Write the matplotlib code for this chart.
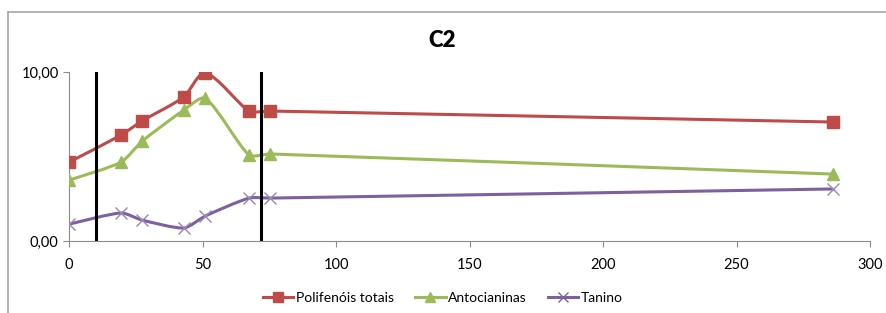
import numpy as np
import matplotlib
matplotlib.use('Agg')
import matplotlib.pyplot as plt
from matplotlib.path import Path
from matplotlib.patches import PathPatch
from matplotlib.lines import Line2D

plt.rcParams['font.family'] = ['Lato', 'DejaVu Sans']

# data
dias = [0, 19.5, 27.3, 43, 51, 67.4, 75.3, 286]
polifenois = [4.67, 6.27, 7.10, 8.52, 9.94, 7.69, 7.69, 7.04]
antocianinas = [3.60, 4.67, 5.90, 7.75, 8.44, 5.09, 5.15, 3.96]
tanino = [1.00, 1.66, 1.24, 0.77, 1.48, 2.54, 2.54, 3.08]
marcos = [10, 72]

series = [
    ('Polifenóis totais', polifenois, '#BE4B48', 's'),
    ('Antocianinas', antocianinas, '#9BBB59', '^'),
    ('Tanino', tanino, '#7D60A0', 'x'),
]

# approx pixels per data unit, used only to shape the smoothing
SX, SY = 801 / 300.0, 169 / 10.0


def smooth_path(x, y, k=0.22):
    # Excel style smoothed line: cubic bezier through the points
    p = np.column_stack([np.asarray(x) * SX, np.asarray(y) * SY])
    n = len(p)
    tang = []
    for i in range(n):
        a = p[i - 1] if i > 0 else p[i]
        b = p[i + 1] if i < n - 1 else p[i]
        d = b - a
        tang.append(d / np.hypot(*d))
    verts = [p[0]]
    codes = [Path.MOVETO]
    for i in range(n - 1):
        L = np.hypot(*(p[i + 1] - p[i]))
        verts += [p[i] + tang[i] * L * k, p[i + 1] - tang[i + 1] * L * k, p[i + 1]]
        codes += [Path.CURVE4] * 3
    verts = np.array(verts) / [SX, SY]
    return Path(verts, codes)


fig = plt.figure(figsize=(8.86, 3.13), dpi=100)
ax = fig.add_axes([0.078, 0.23, 0.904, 0.54])

for nome, vals, cor, mk in series:
    ax.add_patch(PathPatch(smooth_path(dias, vals), facecolor='none',
                           edgecolor=cor, lw=2.2, zorder=2))
    if mk == 'x':
        ax.plot(dias, vals, ls='none', marker=mk, ms=9, mew=1.0,
                color='#9A87B8', zorder=3)
    else:
        ax.plot(dias, vals, ls='none', marker=mk, ms=8.5, color=cor, zorder=3)

for m in marcos:
    ax.plot([m, m], [0, 10], color='black', lw=2.2, zorder=4)

ax.set_xlim(0, 300)
ax.set_ylim(0, 10)
ax.set_xticks(range(0, 301, 50))
ax.set_yticks([0, 10])
ax.set_yticklabels(['0,00', '10,00'])
for s in ['top', 'right']:
    ax.spines[s].set_visible(False)
for s in ['left', 'bottom']:
    ax.spines[s].set_color('#8c8c8c')
ax.tick_params(colors='#8c8c8c', labelcolor='black', labelsize=10.5,
               direction='out', length=4)
ax.tick_params(axis='x', pad=8)
ax.set_title('C2', fontsize=16, fontweight='heavy', x=0.466, pad=18)

handles = [Line2D([], [], color=cor, lw=2.2, marker=mk, ms=7, mew=1.0)
           for _, _, cor, mk in series]
fig.legend(handles, [s[0] for s in series], loc='center',
           bbox_to_anchor=(0.5, 0.048), ncol=3, frameon=False,
           fontsize=10, handlelength=2.2, handletextpad=0.2, columnspacing=1.5)

# chart area border (top and left visible)
fig.add_artist(Line2D([0.009, 1.0], [0.962, 0.962], color='#a6a6a6', lw=1.2,
                      transform=fig.transFigure))
fig.add_artist(Line2D([0.009, 0.009], [0.0, 0.962], color='#a6a6a6', lw=1.2,
                      transform=fig.transFigure))

fig.savefig('out.png', dpi=100, facecolor='white')
